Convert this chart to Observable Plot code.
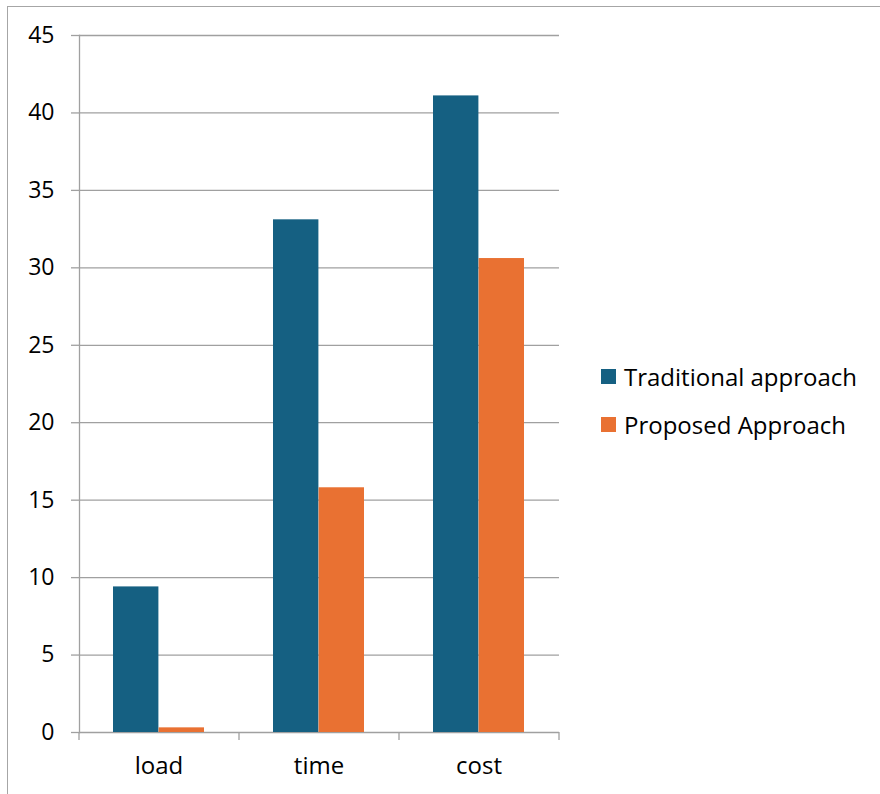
<!DOCTYPE html>
<html>
<head>
<meta charset="utf-8">
<script src="https://cdn.jsdelivr.net/npm/d3@7"></script>
<script src="https://cdn.jsdelivr.net/npm/@observablehq/plot@0.6"></script>
<style>
  html, body { margin: 0; padding: 0; background: #fff; overflow: hidden; }
  #wrap { position: relative; width: 880px; height: 794px; overflow: hidden; font-family: "Open Sans", sans-serif; }
  #border { position: absolute; left: 7px; top: 6px; width: 2000px; height: 2000px; border: 1px solid #a6a6a6; box-sizing: border-box; }
  #chart { position: absolute; left: 0.5px; top: 0; }
  #legend { position: absolute; left: 601px; top: 352px; font-size: 24px; color: #000; }
  .row { display: flex; align-items: center; height: 48px; }
  .sw { width: 15px; height: 15px; margin-right: 8px; flex: none; }
</style>
</head>
<body>
<div id="wrap">
  <div id="border"></div>
  <div id="chart"></div>
  <div id="legend"></div>
</div>
<script>
const categories = ["load", "time", "cost"];
const series = ["Traditional approach", "Proposed Approach"];
const traditional = [9.4, 33.1, 41.1];
const proposed = [0.3, 15.8, 30.6];
const yTicks = [0, 5, 10, 15, 20, 25, 30, 35, 40, 45];
const colors = ["#156082", "#E97132"];

const data = categories.flatMap((c, i) => [
  {category: c, series: series[0], value: traditional[i]},
  {category: c, series: series[1], value: proposed[i]}
]);

const W = 580, H = 794, mL = 78, mR = 22, mT = 35, mB = 62;
const padIn = 0.43, padOut = 0.215;
const step = (W - mL - mR) / (categories.length - padIn + 2 * padOut);
const bw = step * (1 - padIn);
const grid = "#a0a0a0";

const chart = Plot.plot({
  width: W, height: H,
  marginLeft: mL, marginRight: mR, marginTop: mT, marginBottom: mB,
  x: {domain: categories, paddingInner: padIn, paddingOuter: padOut, label: null},
  y: {domain: [0, 45], label: null},
  color: {domain: series, range: colors},
  style: {fontFamily: "Open Sans, sans-serif", fontSize: "24px", color: "#000", background: "transparent"},
  marks: [
    Plot.ruleY(yTicks, {stroke: grid, strokeWidth: 1.3}),
    Plot.frame({anchor: "left", stroke: grid, strokeWidth: 1.3}),
    Plot.barY(data.filter(d => d.series === series[0]), {x: "category", y: "value", fill: "series", insetRight: bw / 2}),
    Plot.barY(data.filter(d => d.series === series[1]), {x: "category", y: "value", fill: "series", insetLeft: bw / 2}),
    Plot.axisY({ticks: yTicks, tickSize: 8, tickPadding: 17, fontSize: 23, stroke: grid, strokeWidth: 1.3}),
    Plot.axisX({tickSize: 0, tickPadding: 24, fontSize: 24}),
    Plot.ruleX(categories, {x: d => d, dx: -step / 2, y1: 0, y2: 0, insetBottom: -8, stroke: grid, strokeWidth: 1.3}),
    Plot.ruleX(categories.slice(-1), {x: d => d, dx: step / 2, y1: 0, y2: 0, insetBottom: -8, stroke: grid, strokeWidth: 1.3})
  ]
});
document.getElementById("chart").appendChild(chart);

const legend = document.getElementById("legend");
series.forEach((s, i) => {
  const row = document.createElement("div");
  row.className = "row";
  const sw = document.createElement("span");
  sw.className = "sw";
  sw.style.background = colors[i];
  const label = document.createElement("span");
  label.textContent = s;
  row.appendChild(sw);
  row.appendChild(label);
  legend.appendChild(row);
});
</script>
</body>
</html>
